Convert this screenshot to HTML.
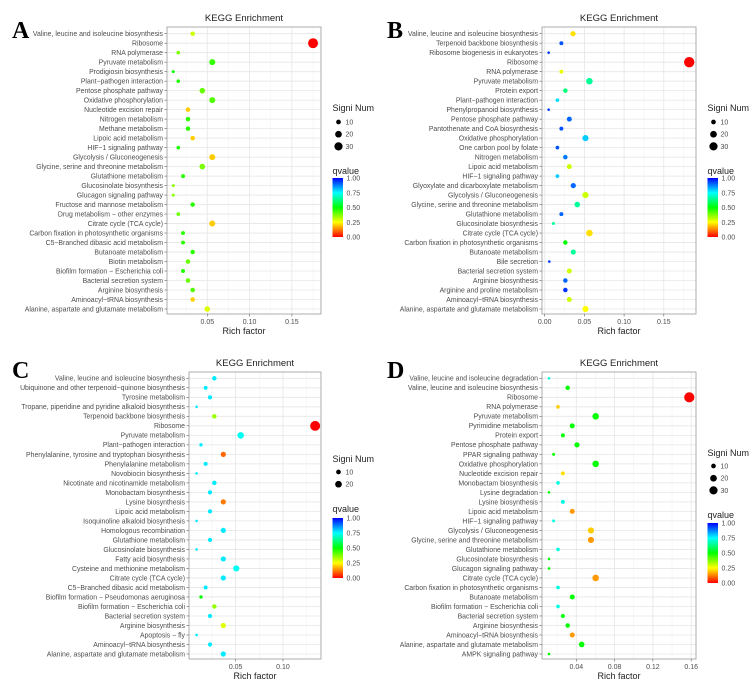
<!DOCTYPE html>
<html><head><meta charset="utf-8"><style>
body{margin:0;background:#fff;width:751px;height:685px;overflow:hidden}
svg{display:block;font-family:"Liberation Sans",sans-serif}
</style></head><body>
<svg id="fig" width="751" height="685" viewBox="0 0 751 685"></svg>
<script>
const aLabels=["Valine, leucine and isoleucine biosynthesis","Ribosome","RNA polymerase","Pyruvate metabolism","Prodigiosin biosynthesis","Plant−pathogen interaction","Pentose phosphate pathway","Oxidative phosphorylation","Nucleotide excision repair","Nitrogen metabolism","Methane metabolism","Lipoic acid metabolism","HIF−1 signaling pathway","Glycolysis / Gluconeogenesis","Glycine, serine and threonine metabolism","Glutathione metabolism","Glucosinolate biosynthesis","Glucagon signaling pathway","Fructose and mannose metabolism","Drug metabolism − other enzymes","Citrate cycle (TCA cycle)","Carbon fixation in photosynthetic organisms","C5−Branched dibasic acid metabolism","Butanoate metabolism","Biotin metabolism","Biofilm formation − Escherichia coli","Bacterial secretion system","Arginine biosynthesis","Aminoacyl−tRNA biosynthesis","Alanine, aspartate and glutamate metabolism"];
const aRich=[0.0327,0.175,0.0157,0.0559,0.0098,0.0157,0.0441,0.0559,0.0272,0.0272,0.0272,0.0327,0.0157,0.0559,0.0441,0.0213,0.0098,0.0098,0.0327,0.0157,0.0559,0.0213,0.0213,0.0327,0.0272,0.0213,0.0272,0.0327,0.0327,0.05];
const aCount=[9,44,6,16,4,6,14,16,9,9,9,9,6,16,14,7,4,4,9,6,16,7,7,9,9,7,9,9,9,14];
const aQ=[0.30,0.0,0.38,0.45,0.5,0.47,0.40,0.42,0.20,0.46,0.46,0.20,0.47,0.20,0.38,0.46,0.36,0.36,0.46,0.40,0.20,0.46,0.46,0.46,0.40,0.47,0.40,0.42,0.20,0.28];

const bLabels=["Valine, leucine and isoleucine biosynthesis","Terpenoid backbone biosynthesis","Ribosome biogenesis in eukaryotes","Ribosome","RNA polymerase","Pyruvate metabolism","Protein export","Plant−pathogen interaction","Phenylpropanoid biosynthesis","Pentose phosphate pathway","Pantothenate and CoA biosynthesis","Oxidative phosphorylation","One carbon pool by folate","Nitrogen metabolism","Lipoic acid metabolism","HIF−1 signaling pathway","Glyoxylate and dicarboxylate metabolism","Glycolysis / Gluconeogenesis","Glycine, serine and threonine metabolism","Glutathione metabolism","Glucosinolate biosynthesis","Citrate cycle (TCA cycle)","Carbon fixation in photosynthetic organisms","Butanoate metabolism","Bile secretion","Bacterial secretion system","Arginine biosynthesis","Arginine and proline metabolism","Aminoacyl−tRNA biosynthesis","Alanine, aspartate and glutamate metabolism"];
const bRich=[0.0357,0.021,0.005,0.182,0.021,0.0563,0.026,0.016,0.005,0.031,0.021,0.0513,0.016,0.026,0.031,0.016,0.036,0.0513,0.041,0.021,0.011,0.0563,0.026,0.036,0.0058,0.031,0.026,0.026,0.031,0.0513];
const bCount=[12,7,3,48,7,19,9,6,3,11,7,17,6,9,11,6,12,17,14,7,4,19,9,12,3,11,9,9,11,17];
const bQ=[0.22,0.92,0.95,0.0,0.27,0.65,0.62,0.78,0.95,0.9,0.92,0.8,0.92,0.88,0.3,0.8,0.9,0.3,0.65,0.9,0.65,0.22,0.5,0.65,0.95,0.3,0.9,0.95,0.3,0.25];

const cLabels=["Valine, leucine and isoleucine biosynthesis","Ubiquinone and other terpenoid−quinone biosynthesis","Tyrosine metabolism","Tropane, piperidine and pyridine alkaloid biosynthesis","Terpenoid backbone biosynthesis","Ribosome","Pyruvate metabolism","Plant−pathogen interaction","Phenylalanine, tyrosine and tryptophan biosynthesis","Phenylalanine metabolism","Novobiocin biosynthesis","Nicotinate and nicotinamide metabolism","Monobactam biosynthesis","Lysine biosynthesis","Lipoic acid metabolism","Isoquinoline alkaloid biosynthesis","Homologous recombination","Glutathione metabolism","Glucosinolate biosynthesis","Fatty acid biosynthesis","Cysteine and methionine metabolism","Citrate cycle (TCA cycle)","C5−Branched dibasic acid metabolism","Biofilm formation − Pseudomonas aeruginosa","Biofilm formation − Escherichia coli","Bacterial secretion system","Arginine biosynthesis","Apoptosis − fly","Aminoacyl−tRNA biosynthesis","Alanine, aspartate and glutamate metabolism"];
const cRich=[0.0275,0.0183,0.0229,0.0088,0.0275,0.134,0.0553,0.0134,0.037,0.0183,0.0088,0.0275,0.0229,0.037,0.0229,0.0088,0.037,0.0229,0.0088,0.037,0.0507,0.037,0.0183,0.0134,0.0275,0.0229,0.037,0.0088,0.0229,0.037];
const cCount=[9,7,8,3,9,44,19,5,12,7,3,9,8,12,8,3,12,8,3,12,17,12,7,5,9,8,12,3,8,12];
const cQ=[0.77,0.77,0.77,0.77,0.35,0.0,0.74,0.77,0.1,0.77,0.77,0.77,0.77,0.12,0.77,0.77,0.77,0.77,0.77,0.77,0.74,0.77,0.77,0.5,0.35,0.77,0.28,0.77,0.77,0.77];

const dLabels=["Valine, leucine and isoleucine degradation","Valine, leucine and isoleucine biosynthesis","Ribosome","RNA polymerase","Pyruvate metabolism","Pyrimidine metabolism","Protein export","Pentose phosphate pathway","PPAR signaling pathway","Oxidative phosphorylation","Nucleotide excision repair","Monobactam biosynthesis","Lysine degradation","Lysine biosynthesis","Lipoic acid metabolism","HIF−1 signaling pathway","Glycolysis / Gluconeogenesis","Glycine, serine and threonine metabolism","Glutathione metabolism","Glucosinolate biosynthesis","Glucagon signaling pathway","Citrate cycle (TCA cycle)","Carbon fixation in photosynthetic organisms","Butanoate metabolism","Biofilm formation − Escherichia coli","Bacterial secretion system","Arginine biosynthesis","Aminoacyl−tRNA biosynthesis","Alanine, aspartate and glutamate metabolism","AMPK signaling pathway"];
const dRich=[0.0115,0.031,0.158,0.0209,0.0602,0.0358,0.026,0.0407,0.0163,0.0602,0.026,0.0209,0.0115,0.026,0.0358,0.0163,0.0553,0.0553,0.0209,0.0115,0.0115,0.0602,0.0209,0.0358,0.0209,0.026,0.031,0.0358,0.0456,0.0115];
const dCount=[3,9,46,6,19,11,7,12,4,19,7,6,3,7,11,4,17,17,6,3,3,19,6,11,6,7,9,11,14,3];
const dQ=[0.72,0.5,0.0,0.2,0.5,0.5,0.5,0.5,0.5,0.5,0.22,0.72,0.5,0.72,0.15,0.72,0.2,0.15,0.72,0.5,0.5,0.15,0.72,0.5,0.72,0.5,0.5,0.15,0.5,0.5];

const aTicks=[0.05,0.10,0.15], bTicks=[0.00,0.05,0.10,0.15], cTicks=[0.05,0.10], dTicks=[0.04,0.08,0.12,0.16];
const abLegend=[10,20,30], cLegend=[10,20], dLegend=[10,20,30];

const NS="http://www.w3.org/2000/svg";
const svg=document.getElementById('fig');
function mk(tag,attrs,parent,text){const e=document.createElementNS(NS,tag);for(const k in attrs)e.setAttribute(k,attrs[k]);if(text!==undefined)e.textContent=text;(parent||svg).appendChild(e);return e;}
function qColor(q){const stops=[[0,[255,0,0]],[0.25,[255,255,0]],[0.5,[0,255,0]],[0.75,[0,255,255]],[1,[0,0,255]]];
 for(let i=0;i<4;i++){const[a,ca]=stops[i],[b,cb]=stops[i+1];if(q<=b){const t=(q-a)/(b-a);return 'rgb('+ca.map((v,j)=>Math.round(v+(cb[j]-v)*t)).join(',')+')';}}return 'rgb(0,0,255)';}
function rad(n){return 0.75*Math.sqrt(n);}
let gid=0;
function panel(o){
 const g=mk('g',{});
 
 
 const xs=v=>o.x0+v*o.ppu;
 const n=o.labels.length;
 const ys=i=>o.yFirst+i*(o.yLast-o.yFirst)/(n-1);
 const L=mk('text',{x:o.letterX,y:o.letterY,'font-family':'Liberation Serif,serif','font-weight':'bold','font-size':24,fill:'#000'},g,o.id);
 
 const T=mk('text',{x:(o.left+o.right)/2,y:o.top-6,'text-anchor':'middle','font-size':9.5,fill:'#222'},g,'KEGG Enrichment');
 
 const bg=mk('rect',{x:o.left,y:o.top,width:o.right-o.left,height:o.bottom-o.top,fill:'#fff'},g);
 
 const step=o.ticks[1]-o.ticks[0];
 for(let v=o.ticks[0]-step/2;v<o.ticks[o.ticks.length-1]+step;v+=step){const x=xs(v);if(x>o.left&&x<o.right){const gl=mk('line',{x1:x,x2:x,y1:o.top,y2:o.bottom,stroke:'#f2f2f2','stroke-width':0.5},g);}}
 o.ticks.forEach(v=>{const x=xs(v);const gl=mk('line',{x1:x,x2:x,y1:o.top,y2:o.bottom,stroke:'#e6e6e6','stroke-width':0.8},g);
  mk('line',{x1:x,x2:x,y1:o.bottom,y2:o.bottom+2.5,stroke:'#555','stroke-width':0.6},g);
  const t=mk('text',{x:x,y:o.bottom+10,'text-anchor':'middle','font-size':7,fill:'#4d4d4d'},g,v.toFixed(2));});
 o.labels.forEach((lab,i)=>{const y=ys(i);const gl=mk('line',{x1:o.left,x2:o.right,y1:y,y2:y,stroke:'#e6e6e6','stroke-width':0.8},g);
  mk('line',{x1:o.left-2.5,x2:o.left,y1:y,y2:y,stroke:'#555','stroke-width':0.6},g);
  const t=mk('text',{x:o.left-4,y:y+2.4,'text-anchor':'end','font-size':6.9,fill:'#4d4d4d'},g,lab);});
 const bd=mk('rect',{x:o.left,y:o.top,width:o.right-o.left,height:o.bottom-o.top,fill:'none',stroke:'#999','stroke-width':0.8},g);
 
 o.labels.forEach((lab,i)=>{const c=mk('circle',{cx:xs(o.rich[i]),cy:ys(i),r:rad(o.count[i]),fill:qColor(o.q[i])},g);
  
  });
 const xt=mk('text',{x:(o.left+o.right)/2,y:o.bottom+20,'text-anchor':'middle','font-size':9,fill:'#222'},g,'Rich factor');
 
 const lx=o.legX;
 const st=mk('text',{x:lx,y:o.sizeTitleY,'font-size':9,fill:'#222'},g,'Signi Num');
 o.legend.forEach((v,i)=>{const y=o.sizeY0+i*12.2;mk('circle',{cx:lx+6,cy:y,r:rad(v),fill:'#000'},g);
  const t=mk('text',{x:lx+13,y:y+2.5,'font-size':7,fill:'#4d4d4d'},g,String(v));});
 const qt=mk('text',{x:lx,y:o.qTitleY,'font-size':9,fill:'#222'},g,'qvalue');
 const id='grad'+(gid++);const defs=mk('defs',{},g);const lg=mk('linearGradient',{id:id,x1:0,y1:1,x2:0,y2:0},defs);
 [0,0.25,0.5,0.75,1].forEach(s=>mk('stop',{offset:s,'stop-color':qColor(s)},lg));
 const cb=mk('rect',{x:lx,y:o.cbTop,width:10.5,height:o.cbBot-o.cbTop,fill:'url(#'+id+')'},g);
 [1,0.75,0.5,0.25,0].forEach(v=>{const y=o.cbBot-v*(o.cbBot-o.cbTop);const t=mk('text',{x:lx+14,y:y+2.5,'font-size':7,fill:'#4d4d4d'},g,v.toFixed(2));});
}
panel({id:'A',labels:aLabels,rich:aRich,count:aCount,q:aQ,ticks:aTicks,legend:abLegend,left:167,right:321,top:27,bottom:314,yFirst:33.7,yLast:309,x0:165,ppu:846,letterX:12,letterY:38,legX:332.5,sizeTitleY:111,sizeY0:122,qTitleY:174,cbTop:178,cbBot:237});
panel({id:'B',labels:bLabels,rich:bRich,count:bCount,q:bQ,ticks:bTicks,legend:abLegend,left:542,right:696,top:27,bottom:314,yFirst:33.7,yLast:309,x0:544.7,ppu:794,letterX:387,letterY:38,legX:707.5,sizeTitleY:111,sizeY0:122,qTitleY:174,cbTop:178,cbBot:237});
panel({id:'C',labels:cLabels,rich:cRich,count:cCount,q:cQ,ticks:cTicks,legend:cLegend,left:189,right:321,top:372,bottom:659,yFirst:378.3,yLast:654,x0:188.3,ppu:946.7,letterX:12,letterY:378,legX:332.5,sizeTitleY:462,sizeY0:472,qTitleY:512,cbTop:518,cbBot:578});
panel({id:'D',labels:dLabels,rich:dRich,count:dCount,q:dQ,ticks:dTicks,legend:dLegend,left:542,right:696,top:372,bottom:659,yFirst:378.3,yLast:654,x0:538,ppu:957.5,letterX:387,letterY:378,legX:707.5,sizeTitleY:456,sizeY0:466,qTitleY:518,cbTop:523,cbBot:583});
</script>
</body></html>
